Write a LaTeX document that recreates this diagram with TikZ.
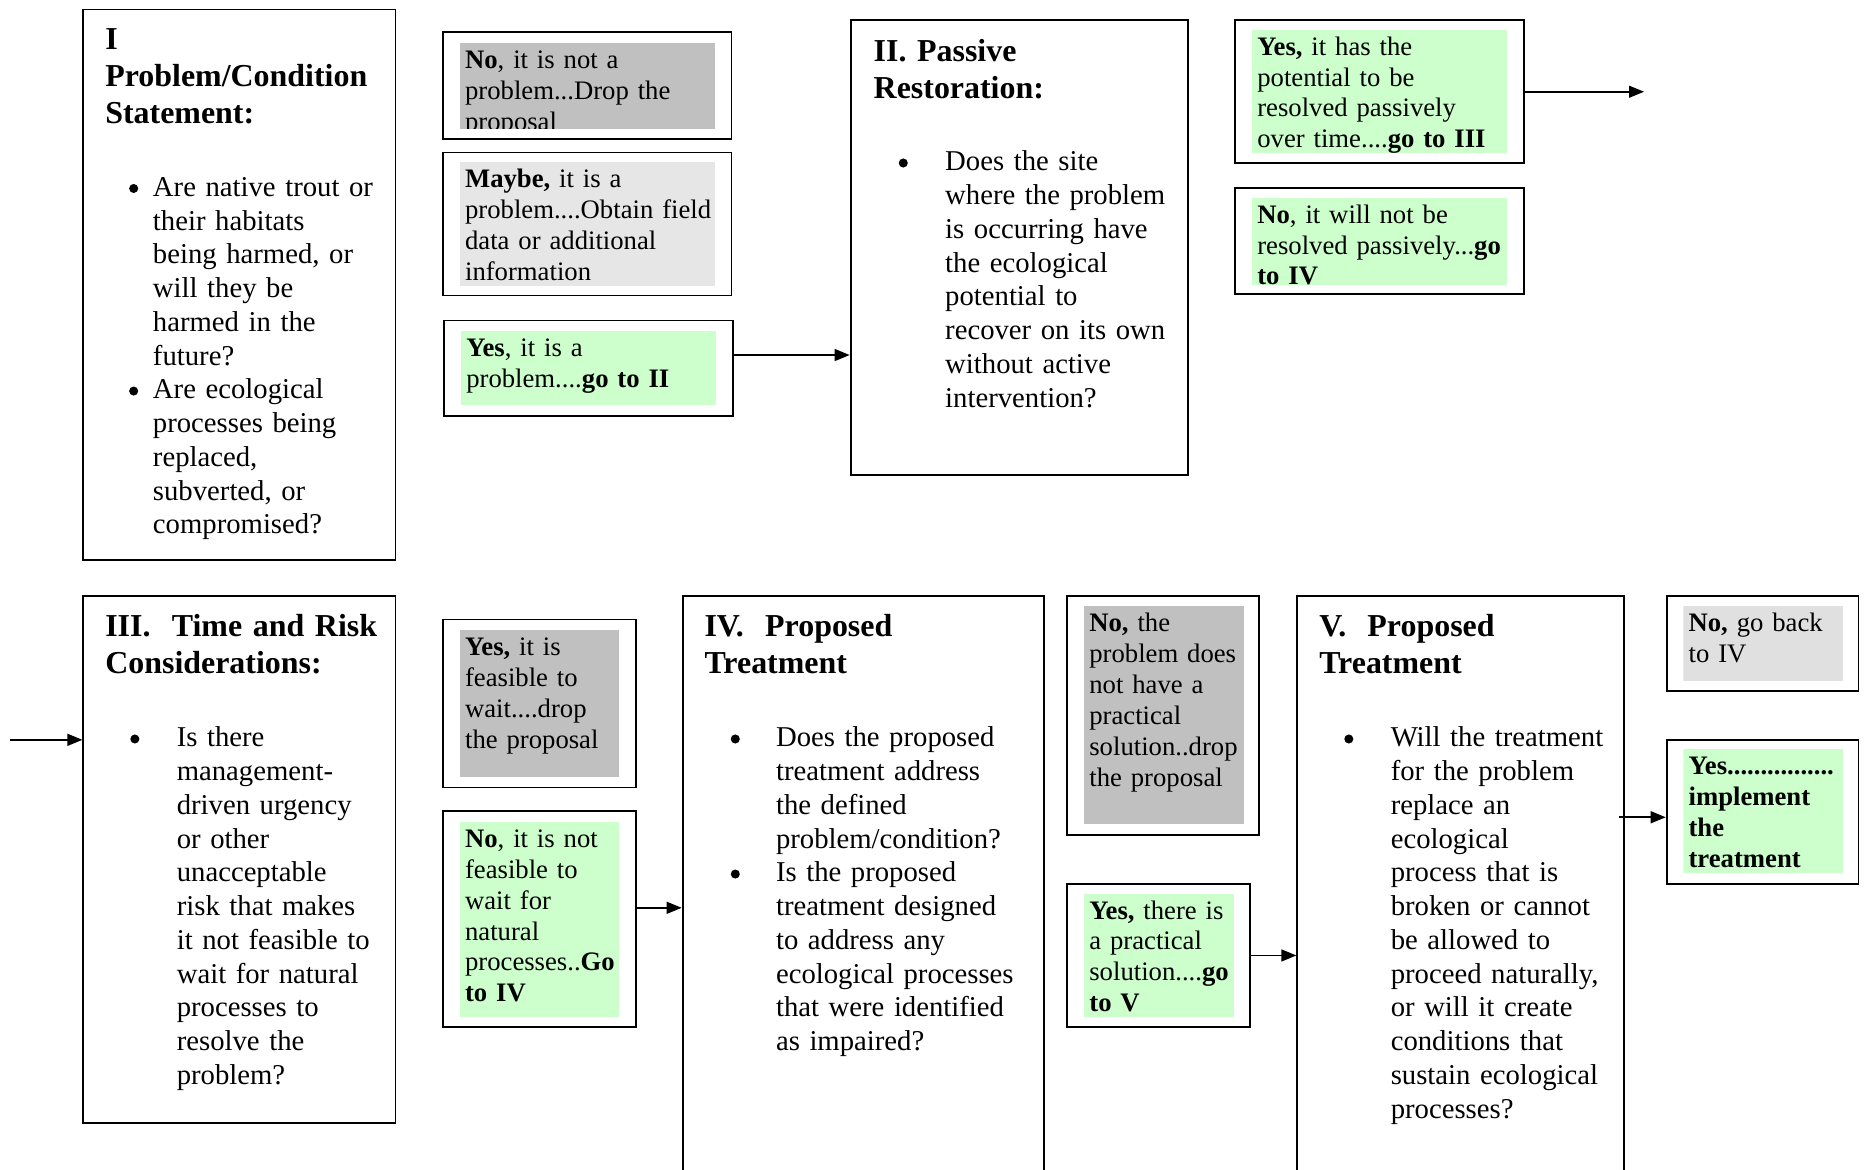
\documentclass[tikz,border=0pt]{standalone}
\usepackage{fontspec}
\setmainfont{Liberation Serif}
\usetikzlibrary{arrows.meta,fit}
\definecolor{dgray}{HTML}{C0C0C0}
\definecolor{lgray}{HTML}{E6E6E6}
\definecolor{lgrayb}{HTML}{E0E0E0}
\definecolor{lgreen}{HTML}{CCFFCC}
\tikzset{
  box/.style={draw=black, line width=0.8pt, inner sep=0pt},
  arr/.style={line width=0.65pt, -{Triangle[length=6.3pt,width=5pt]}},
  titletxt/.style={anchor=north west, inner sep=0pt, text width=300pt, align=left,
    font=\fontsize{13.4}{15.5}\selectfont\bfseries\setlength\parindent{0pt}},
  bodytxt/.style={anchor=north west, inner sep=0pt, text width=300pt, align=left,
    font=\fontsize{12.05}{14.17}\selectfont\setlength\parindent{0pt}},
  smalltxt/.style={anchor=north west, inner sep=0pt, text width=200pt, align=left,
    font=\fontsize{11.2}{12.95}\selectfont\setlength\parindent{0pt}},
}
\newcommand{\Tt}{\rule{0pt}{11pt}}
\newcommand{\Tb}{\rule{0pt}{10pt}}
\newcommand{\Ts}{\rule{0pt}{9.5pt}}
\newcommand{\bdot}{\tikz[baseline=0pt]\fill[black] (0pt,3.3pt) circle[radius=1.9pt];}
\newcommand{\bul}[1]{\leavevmode\llap{\makebox[#1][l]{\bdot}}}
\newcommand{\choicebox}[7]{%
  \node[box, fit={(#2) (#3)}] (#1) {};
  \begin{scope}
    \clip (#4) rectangle (#5);
    \fill[#6] (#4) rectangle (#5);
    \node[smalltxt] (#1-t) at ([shift={(4,2)}]#4) {\Ts #7};
  \end{scope}
}
\begin{document}
\begin{tikzpicture}[x=0.5pt, y=-0.5pt]
\useasboundingbox (0,0) rectangle (1568,982);

% ---------- Box I ----------
\node[box, fit={(70,8) (332,470)}] (b1) {};
\node[titletxt] (b1-title) at (88,19.4) {\Tt I\\Problem/Condition\\Statement:};
\node[bodytxt] (b1-body) at (128,144.4) {\Tb\bul{10pt}Are native trout or\\their habitats\\being harmed, or\\will they be\\harmed in the\\future?\\\bul{10pt}Are ecological\\processes being\\replaced,\\subverted, or\\compromised?};

\choicebox{no1}{372,27}{614,117}{386,36}{600,108}{dgray}{\textbf{No}, it is not a\\problem...Drop the\\proposal}
\choicebox{maybe1}{372,128}{614,248}{386,136}{600,240}{lgray}{\textbf{Maybe,} it is a\\problem....Obtain field\\data or additional\\information}
\choicebox{yes1}{373,269}{615,349}{387,278}{601,340}{lgreen}{\textbf{Yes}, it is a\\problem....\textbf{go to II}}

% ---------- Box II ----------
\node[box, fit={(714,17) (997,399)}] (b2) {};
\node[titletxt] (b2-title) at (733,29) {\Tt II. Passive\\Restoration:};
\node[bodytxt] (b2-body) at (793,123) {\Tb\bul{19.5pt}Does the site\\where the problem\\is occurring have\\the ecological\\potential to\\recover on its own\\without active\\intervention?};

\choicebox{yes2}{1037,17}{1279,137}{1051,25}{1265,128}{lgreen}{\textbf{Yes,} it has the\\potential to be\\resolved passively\\over time....\textbf{go to III}}
\choicebox{no2}{1037,158}{1279,247}{1051,166}{1265,239}{lgreen}{\textbf{No}, it will not be\\resolved passively...\textbf{go}\\\textbf{to IV}}

% ---------- Box III ----------
\node[box, fit={(70,500) (332,943)}] (b3) {};
\node[titletxt] (b3-title) at (88,512) {\Tt III.\ \ Time and Risk\\Considerations:};
\node[bodytxt] (b3-body) at (148,606.5) {\Tb\bul{19.5pt}Is there\\management-\\driven urgency\\or other\\unacceptable\\risk that makes\\it not feasible to\\wait for natural\\processes to\\resolve the\\problem?};

\choicebox{yes3}{372,520}{534,661}{386,529}{520,652}{dgray}{\textbf{Yes,} it is\\feasible to\\wait....drop\\the proposal}
\choicebox{no3}{372,681}{534,862}{386,690}{520,854}{lgreen}{\textbf{No}, it is not\\feasible to\\wait for\\natural\\processes..\textbf{Go}\\\textbf{to IV}}

% ---------- Box IV ----------
\node[box, fit={(573,500) (876,1000)}] (b4) {};
\node[titletxt] (b4-title) at (591,512) {\Tt IV.\ \ Proposed\\Treatment};
\node[bodytxt] (b4-body) at (651,606.5) {\Tb\bul{19pt}Does the proposed\\treatment address\\the defined\\problem/condition?\\\bul{19pt}Is the proposed\\treatment designed\\to address any\\ecological processes\\that were identified\\as impaired?};

\choicebox{no4}{896,500}{1057,701}{910,509}{1044,692}{dgray}{\textbf{No,} the\\problem does\\not have a\\practical\\solution..drop\\the proposal}
\choicebox{yes4}{896,742}{1049,862}{910,750}{1036,854}{lgreen}{\textbf{Yes,} there is\\a practical\\solution....\textbf{go}\\\textbf{to V}}

% ---------- Box V ----------
\node[box, fit={(1089,500) (1363,1000)}] (b5) {};
\node[titletxt] (b5-title) at (1107,512) {\Tt V.\ \ Proposed\\Treatment};
\node[bodytxt] (b5-body) at (1167,606.5) {\Tb\bul{19.5pt}Will the treatment\\for the problem\\replace an\\ecological\\process that is\\broken or cannot\\be allowed to\\proceed naturally,\\or will it create\\conditions that\\sustain ecological\\processes?};

\choicebox{no5}{1399,500}{1560,580}{1413,509}{1547,572}{lgrayb}{\textbf{No,} go back\\to IV}
\choicebox{yes5}{1399,621}{1560,742}{1413,629}{1547,733}{lgreen}{\textbf{Yes................}\\\textbf{implement}\\\textbf{the}\\\textbf{treatment}}

% ---------- connectors ----------
\coordinate (out2) at (1380,77);
\coordinate (in3) at (8,621);
\coordinate (v5s) at ([xshift=-2.5pt]b5.east);
\draw[arr] (yes1.east |- 0,298) -- (b2.west |- 0,298);
\draw[arr] (yes2.east |- out2) -- (out2);
\draw[arr] (in3) -- (b3.west |- in3);
\draw[arr] (no3.east |- 0,762) -- (b4.west |- 0,762);
\draw[arr] (yes4.east |- 0,802) -- (b5.west |- 0,802);
\draw[arr] (v5s |- 0,686) -- (yes5.west |- 0,686);
\end{tikzpicture}
\end{document}
